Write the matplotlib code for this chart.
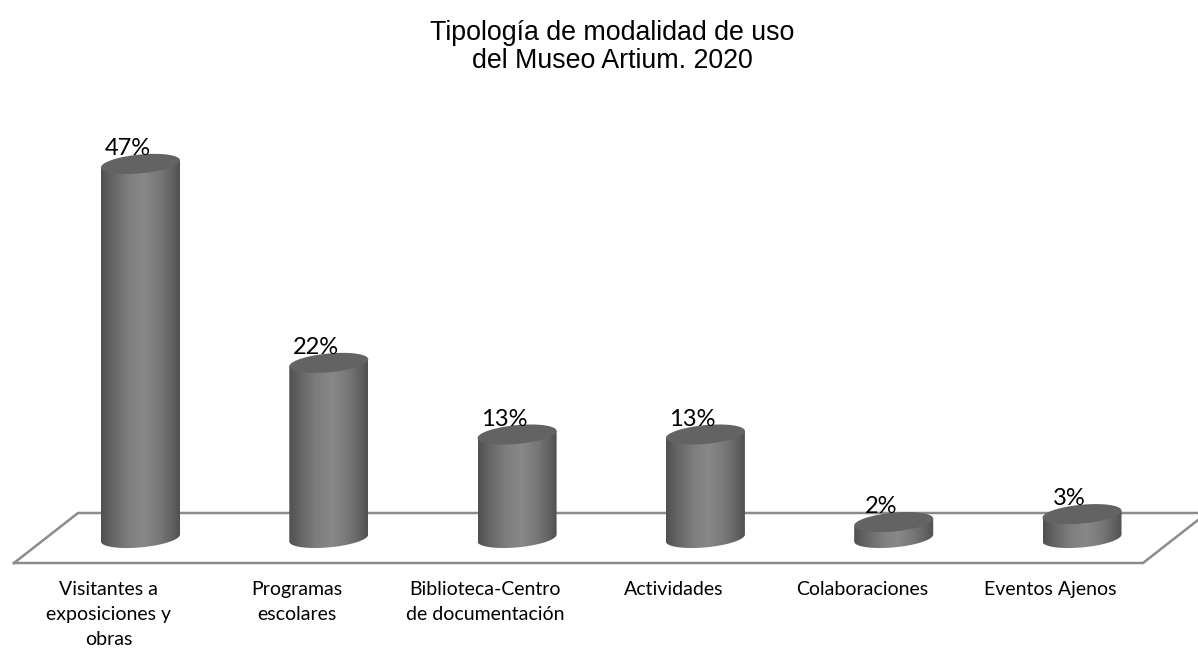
import numpy as np
import matplotlib
matplotlib.use('Agg')
import matplotlib.pyplot as plt
from matplotlib.colors import LinearSegmentedColormap
from matplotlib.patches import Polygon

# datos
categorias = ['Visitantes a\nexposiciones y\nobras', 'Programas\nescolares',
              'Biblioteca-Centro\nde documentación', 'Actividades',
              'Colaboraciones', 'Eventos Ajenos']
valores = [47, 22, 13, 13, 2, 3]
titulo = 'Tipología de modalidad de uso\ndel Museo Artium. 2020'

W, H = 1198, 648
PX_X = 188.3   # px por categoria
PX_Y = 7.96    # px por 1%
X0, Y0 = 140.5, 538  # px de la primera barra, base

fig = plt.figure(figsize=(W / 100, H / 100), dpi=100)
ax = fig.add_axes([0, 0, 1, 1])
ax.axis('off')

# suelo
suelo_x = [14, 78, 1207, 1143, 14]
suelo_y = [563, 513, 513, 563, 563]
ax.plot([(x - X0) / PX_X for x in suelo_x], [(Y0 - y) / PX_Y for y in suelo_y],
        color='#8c8c8c', lw=1.8, zorder=1, solid_joinstyle='miter')

cmap = LinearSegmentedColormap.from_list(
    'cil', [(0, '#505050'), (0.15, '#666666'), (0.35, '#7e7e7e'), (0.55, '#888888'),
            (0.75, '#777777'), (0.9, '#626262'), (1, '#505050')])
grad = np.linspace(0, 1, 256).reshape(1, -1)

a = 39.5 / PX_X
b = 9.4 / PX_Y
s = 3.5 / PX_Y


def elipse(i, v, t):
    return i + a * np.cos(t), v + b * np.sin(t) + s * np.cos(t)


for i, v in enumerate(valores):
    # cuerpo del cilindro
    t_base = np.linspace(np.pi, 2 * np.pi, 60)
    xb, yb = elipse(i, 0, t_base)
    xs = list(xb) + [i + a, i - a]
    ys = list(yb) + [v + s, v - s]
    im = ax.imshow(grad, cmap=cmap, aspect='auto', zorder=2, vmin=0, vmax=1,
                   extent=(i - a, i + a, -2.5, v + 1))
    clip = Polygon(np.column_stack([xs, ys]), closed=True, transform=ax.transData)
    im.set_clip_path(clip)
    # tapa
    xt, yt = elipse(i, v, np.linspace(0, 2 * np.pi, 120))
    ax.fill(xt, yt, color='#636363', lw=0, zorder=3)
    # etiqueta
    ax.annotate(f'{v}%', (i, v), xytext=(-13, 9), textcoords='offset pixels',
                ha='center', va='baseline', fontsize=17, family='Lato',
                color='black', zorder=4)
    ax.annotate(categorias[i], (i, 0), xytext=(-32, -43), textcoords='offset pixels',
                ha='center', va='top', fontsize=14, family='Lato',
                color='black', linespacing=1.56)

ax.set_xlim(-X0 / PX_X, (W - X0) / PX_X)
ax.set_ylim(-(H - Y0) / PX_Y, Y0 / PX_Y)

fig.text(612 / W, 1 - 20 / H, titulo, ha='center', va='top', fontsize=19.3,
         family='Liberation Sans', linespacing=1.08)

fig.savefig('out.png', dpi=100)
